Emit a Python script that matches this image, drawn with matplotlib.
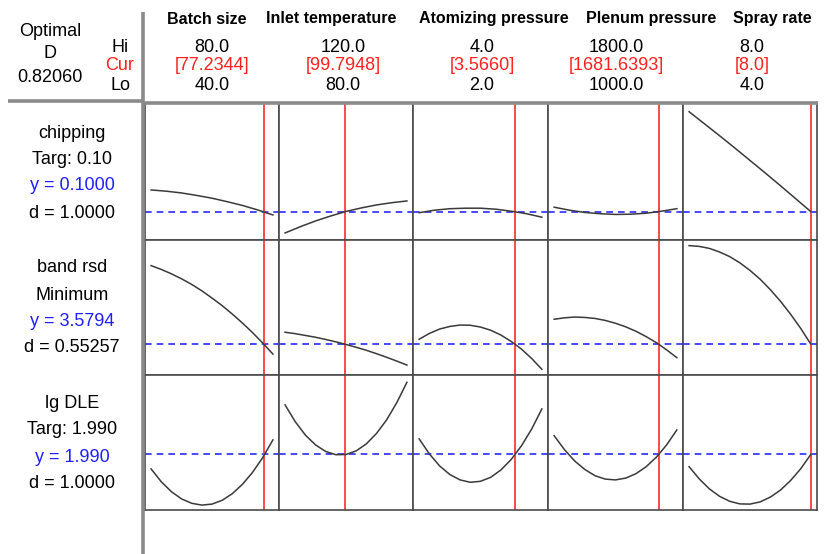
import numpy as np
import matplotlib
matplotlib.use("Agg")
import matplotlib.pyplot as plt

plt.rcParams['font.family'] = ['Liberation Sans', 'DejaVu Sans']

# factor settings
factors = ["Batch size", "Inlet temperature", "Atomizing pressure",
           "Plenum pressure", "Spray rate"]
hi_vals = [80.0, 120.0, 4.0, 1800.0, 8.0]
lo_vals = [40.0, 80.0, 2.0, 1000.0, 4.0]
cur_vals = [77.2344, 99.7948, 3.5660, 1681.6393, 8.0]
hi_labels = ["80.0", "120.0", "4.0", "1800.0", "8.0"]
cur_labels = ["[77.2344]", "[99.7948]", "[3.5660]", "[1681.6393]", "[8.0]"]
lo_labels = ["40.0", "80.0", "2.0", "1000.0", "4.0"]

# responses
responses = ["chipping", "band rsd", "lg DLE"]
goals = ["Targ: 0.10", "Minimum", "Targ: 1.990"]
y_pred = [0.1000, 3.5794, 1.990]
y_labels = ["y = 0.1000", "y = 3.5794", "y = 1.990"]
d_labels = ["d = 1.0000", "d = 0.55257", "d = 1.0000"]
overall_D = "0.82060"

# predicted response along each factor, evenly spaced settings from Lo to Hi
chipping = [
    [0.187, 0.182, 0.175, 0.165, 0.154, 0.140, 0.125, 0.107, 0.087],
    [0.015, 0.040, 0.063, 0.083, 0.101, 0.115, 0.127, 0.136, 0.143],
    [0.096, 0.106, 0.112, 0.114, 0.114, 0.110, 0.102, 0.092, 0.078],
    [0.118, 0.106, 0.097, 0.092, 0.089, 0.090, 0.094, 0.102, 0.112],
    [0.500, 0.452, 0.404, 0.355, 0.305, 0.255, 0.204, 0.152, 0.100],
]
band_rsd = [
    [7.51, 7.32, 7.10, 6.85, 6.57, 6.25, 5.89, 5.51, 5.09, 4.64, 4.16, 3.64, 3.09],
    [4.18, 4.11, 4.02, 3.93, 3.82, 3.70, 3.57, 3.43, 3.28, 3.11, 2.93, 2.74, 2.54],
    [3.83, 4.12, 4.34, 4.47, 4.54, 4.53, 4.44, 4.28, 4.04, 3.72, 3.34, 2.87, 2.33],
    [4.83, 4.90, 4.94, 4.92, 4.87, 4.77, 4.63, 4.45, 4.23, 3.96, 3.66, 3.30, 2.91],
    [8.51, 8.47, 8.37, 8.19, 7.96, 7.65, 7.27, 6.83, 6.31, 5.73, 5.08, 4.37, 3.58],
]
lg_dle = [
    [1.917, 1.853, 1.803, 1.767, 1.745, 1.736, 1.741, 1.760, 1.793, 1.840,
     1.900, 1.974, 2.062],
    [2.237, 2.153, 2.086, 2.037, 2.004, 1.988, 1.989, 2.007, 2.042, 2.094,
     2.162, 2.248, 2.350],
    [2.067, 1.992, 1.932, 1.889, 1.862, 1.850, 1.855, 1.875, 1.912, 1.964,
     2.032, 2.116, 2.217],
    [2.083, 2.014, 1.957, 1.914, 1.883, 1.866, 1.862, 1.871, 1.893, 1.928,
     1.976, 2.037, 2.112],
    [1.928, 1.867, 1.817, 1.780, 1.755, 1.742, 1.741, 1.752, 1.776, 1.811,
     1.859, 1.918, 1.990],
]
curves = [chipping, band_rsd, lg_dle]
row_ylims = [(-0.0132, 0.5348), (2.044, 8.79), (1.7115, 2.3865)]

W, H = 830, 554
fig = plt.figure(figsize=(W / 100, H / 100), dpi=100)

col_edges = [145, 279, 413, 548, 683, 817]
row_edges = [103, 240, 375, 510]

for r in range(3):
    for c in range(5):
        x0, x1 = col_edges[c], col_edges[c + 1]
        y0, y1 = row_edges[r], row_edges[r + 1]
        ax = fig.add_axes([x0 / W, 1 - y1 / H, (x1 - x0) / W, (y1 - y0) / H])
        vals = curves[r][c]
        xs = np.linspace(lo_vals[c], hi_vals[c], len(vals))
        span = hi_vals[c] - lo_vals[c]
        ax.plot(xs, vals, color='#3a3a3a', lw=1.1, zorder=3,
                solid_joinstyle='round')
        ax.axhline(y_pred[r], color='#2a2aff', lw=1.2, ls=(0, (4, 3)), zorder=2)
        ax.axvline(cur_vals[c], color='#ff4a4a', lw=1.4, zorder=2)
        ax.set_xlim(lo_vals[c] - 0.05 * span, hi_vals[c] + 0.05 * span)
        ax.set_ylim(*row_ylims[r])
        ax.set_xticks([])
        ax.set_yticks([])
        for s in ax.spines.values():
            s.set_color('#4a4a4a')
            s.set_linewidth(1.2)

# overlay in pixel coordinates for header text and frame lines
ov = fig.add_axes([0, 0, 1, 1], facecolor='none')
ov.set_xlim(0, W)
ov.set_ylim(H, 0)
ov.axis('off')

ov.plot([143, 143], [12, H], color='#8a8a8a', lw=2.6, solid_capstyle='butt')
ov.plot([8, 143], [101, 101], color='#8a8a8a', lw=2.6, solid_capstyle='butt')
ov.plot([143, 818], [103, 103], color='#8a8a8a', lw=2.6, solid_capstyle='butt')

fs = 13
ov.text(50, 32, "Optimal", ha='center', va='center', fontsize=fs)
ov.text(50, 54, "D", ha='center', va='center', fontsize=fs)
ov.text(50, 77, overall_D, ha='center', va='center', fontsize=fs)
ov.text(120, 47, "Hi", ha='center', va='center', fontsize=fs)
ov.text(120, 66, "Cur", ha='center', va='center', fontsize=fs, color='#ff2020')
ov.text(120, 85, "Lo", ha='center', va='center', fontsize=fs)

head_x = [207, 331, 494, 651, 772]
val_x = [212, 343, 482, 616, 752]
for c in range(5):
    ov.text(head_x[c], 19, factors[c], ha='center', va='center',
            fontsize=11.5, fontweight='bold')
    ov.text(val_x[c], 47, hi_labels[c], ha='center', va='center', fontsize=fs)
    ov.text(val_x[c], 65, cur_labels[c], ha='center', va='center', fontsize=fs,
            color='#ff2020')
    ov.text(val_x[c], 85, lo_labels[c], ha='center', va='center', fontsize=fs)

label_y = [[133, 160, 186, 213], [268, 295, 322, 348], [403, 430, 457, 484]]
for r in range(3):
    ys = label_y[r]
    ov.text(72, ys[0], responses[r], ha='center', va='center', fontsize=fs)
    ov.text(72, ys[1], goals[r], ha='center', va='center', fontsize=fs)
    ov.text(72, ys[2], y_labels[r], ha='center', va='center', fontsize=fs,
            color='#2020ff')
    ov.text(72, ys[3], d_labels[r], ha='center', va='center', fontsize=fs)

fig.savefig("out.png", dpi=100)
